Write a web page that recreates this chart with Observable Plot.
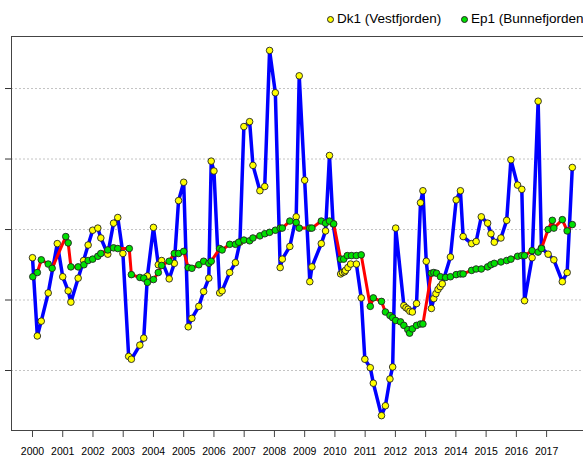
<!DOCTYPE html>
<html>
<head>
<meta charset="utf-8">
<script src="https://cdn.jsdelivr.net/npm/d3@7"></script>
<script src="https://cdn.jsdelivr.net/npm/@observablehq/plot@0.6"></script>
<style>
  html, body { margin: 0; padding: 0; background: white; overflow: hidden; }
  #legend { position: relative; height: 30px; width: 583px; font-family: "Liberation Sans", Arial, sans-serif; font-size: 13.5px; color: #000; }
  #legend .dot { position: absolute; width: 5px; height: 5px; border-radius: 50%; border: 0.8px solid #222; }
  #legend .lab { position: absolute; white-space: nowrap; line-height: 16px; }
</style>
</head>
<body>
<div id="legend"></div>
<div id="chart"></div>
<script>
// Series names
const seriesNames = ["Dk1 (Vestfjorden)", "Ep1 (Bunnefjorden)"];
const seriesFill = ["#ffff00", "#00e000"];
const seriesLine = ["#0000ff", "#ff0000"];

// Dk1 (Vestfjorden): decimal year and value
const dk1Year = [2000.00, 2000.16, 2000.29, 2000.52, 2000.82, 2001.00, 2001.18, 2001.27, 2001.51, 2001.69,
  2001.84, 2001.99, 2002.16, 2002.26, 2002.49, 2002.68, 2002.82, 2002.99, 2003.18, 2003.27,
  2003.55, 2003.68, 2003.80, 2004.00, 2004.16, 2004.27, 2004.52, 2004.69, 2004.83, 2005.00,
  2005.15, 2005.27, 2005.50, 2005.66, 2005.83, 2005.91, 2006.00, 2006.19, 2006.27, 2006.52,
  2006.71, 2006.86, 2006.99, 2007.18, 2007.29, 2007.52, 2007.68, 2007.84, 2008.03, 2008.19,
  2008.26, 2008.51, 2008.72, 2008.82, 2009.00, 2009.17, 2009.24, 2009.55, 2009.69, 2009.82,
  2009.94, 2010.19, 2010.25, 2010.32, 2010.35, 2010.43, 2010.52, 2010.71, 2010.87, 2010.99,
  2011.17, 2011.27, 2011.54, 2011.67, 2011.82, 2011.91, 2012.01, 2012.28, 2012.35, 2012.42,
  2012.48, 2012.56, 2012.70, 2012.83, 2012.91, 2013.02, 2013.19, 2013.27, 2013.34, 2013.41,
  2013.48, 2013.55, 2013.82, 2014.01, 2014.15, 2014.24, 2014.52, 2014.67, 2014.84, 2015.05,
  2015.16, 2015.27, 2015.49, 2015.68, 2015.82, 2016.04, 2016.18, 2016.27, 2016.52, 2016.72,
  2016.83, 2017.05, 2017.24, 2017.52, 2017.68, 2017.85];
const dk1Value = [2.60, 1.49, 1.70, 2.10, 2.80, 2.33, 2.13, 1.97, 2.31, 2.56,
  2.78, 2.99, 3.02, 2.88, 2.65, 3.09, 3.17, 2.66, 1.20, 1.16,
  1.36, 1.46, 2.34, 3.03, 2.50, 2.56, 2.30, 2.52, 3.41, 3.67,
  1.62, 1.74, 1.91, 2.12, 2.31, 3.97, 3.83, 2.10, 2.13, 2.39,
  2.53, 2.82, 4.46, 4.53, 3.91, 3.55, 3.61, 5.54, 4.94, 2.46,
  2.58, 2.76, 3.18, 5.18, 3.70, 2.26, 2.47, 2.80, 2.98, 4.05,
  3.08, 2.37, 2.39, 2.40, 2.42, 2.46, 2.51, 2.51, 2.03, 1.16,
  1.04, 0.82, 0.36, 0.50, 0.88, 1.05, 3.02, 1.92, 1.89, 1.87,
  1.84, 1.83, 1.95, 3.38, 3.55, 2.55, 1.88, 2.02, 2.09, 2.15,
  2.19, 2.23, 2.61, 3.42, 3.55, 2.90, 2.80, 2.83, 3.18, 3.09,
  2.94, 2.82, 2.88, 3.13, 3.99, 3.63, 3.57, 1.99, 2.60, 4.82,
  2.74, 2.65, 2.57, 2.26, 2.39, 3.88];

// Ep1 (Bunnefjorden): decimal year and value
const ep1Year = [2000.01, 2000.16, 2000.29, 2000.52, 2000.65, 2001.10, 2001.18, 2001.27, 2001.51, 2001.70,
  2001.84, 2001.99, 2002.16, 2002.26, 2002.49, 2002.68, 2002.82, 2003.20, 2003.27, 2003.55,
  2003.68, 2003.80, 2004.00, 2004.16, 2004.27, 2004.52, 2004.69, 2004.83, 2005.00, 2005.15,
  2005.27, 2005.50, 2005.66, 2005.83, 2005.91, 2006.19, 2006.27, 2006.52, 2006.71, 2006.82,
  2006.99, 2007.18, 2007.29, 2007.52, 2007.68, 2007.84, 2008.03, 2008.19, 2008.26, 2008.51,
  2008.72, 2008.82, 2009.17, 2009.24, 2009.55, 2009.69, 2009.82, 2009.96, 2010.19, 2010.29,
  2010.41, 2010.55, 2010.71, 2010.87, 2011.17, 2011.27, 2011.54, 2011.67, 2011.82, 2011.91,
  2012.01, 2012.17, 2012.28, 2012.41, 2012.47, 2012.56, 2012.70, 2012.83, 2012.91, 2013.19,
  2013.27, 2013.36, 2013.49, 2013.66, 2013.82, 2014.01, 2014.15, 2014.24, 2014.52, 2014.67,
  2014.84, 2015.05, 2015.16, 2015.27, 2015.49, 2015.68, 2015.82, 2016.04, 2016.18, 2016.27,
  2016.52, 2016.72, 2016.83, 2017.05, 2017.19, 2017.24, 2017.52, 2017.68, 2017.85];
const ep1Value = [2.33, 2.39, 2.57, 2.51, 2.45, 2.90, 2.81, 2.47, 2.47, 2.50,
  2.56, 2.58, 2.62, 2.66, 2.71, 2.74, 2.73, 2.73, 2.36, 2.32,
  2.31, 2.25, 2.29, 2.39, 2.49, 2.55, 2.66, 2.66, 2.69, 2.46,
  2.45, 2.50, 2.55, 2.52, 2.55, 2.73, 2.71, 2.79, 2.79, 2.82,
  2.85, 2.84, 2.88, 2.91, 2.94, 2.96, 2.99, 3.02, 3.02, 3.12,
  3.10, 3.02, 3.02, 3.02, 3.12, 3.09, 3.12, 3.08, 2.58, 2.58,
  2.63, 2.63, 2.63, 2.64, 1.91, 2.03, 1.98, 1.83, 1.78, 1.75,
  1.71, 1.69, 1.64, 1.58, 1.53, 1.59, 1.64, 1.66, 1.66, 2.38,
  2.39, 2.38, 2.33, 2.32, 2.33, 2.36, 2.37, 2.37, 2.42, 2.44,
  2.44, 2.47, 2.50, 2.52, 2.54, 2.56, 2.58, 2.62, 2.63, 2.63,
  2.70, 2.68, 2.73, 3.00, 3.13, 3.02, 3.14, 2.98, 3.07];

// Axis ticks
const xTicks = [2000, 2001, 2002, 2003, 2004, 2005, 2006, 2007, 2008, 2009, 2010, 2011, 2012, 2013, 2014, 2015, 2016, 2017];
const yTicks = [1, 2, 3, 4, 5];
const xDomain = [1999.306, 2018.22];
const yDomain = [0.149, 5.738];

const dk1 = dk1Year.map((t, i) => ({year: t, value: dk1Value[i]}));
const ep1 = ep1Year.map((t, i) => ({year: t, value: ep1Value[i]}));

// Legend (HTML, above the SVG)
const legend = document.getElementById("legend");
const legendPos = [{dot: 330, text: 337}, {dot: 464, text: 471}];
seriesNames.forEach((name, i) => {
  const d = document.createElement("span");
  d.className = "dot";
  d.style.left = (legendPos[i].dot - 3.3) + "px";
  d.style.top = (19 - 3.3) + "px";
  d.style.background = seriesFill[i];
  legend.appendChild(d);
  const t = document.createElement("span");
  t.className = "lab";
  t.style.left = legendPos[i].text + "px";
  t.style.top = (19 - 8.5) + "px";
  t.textContent = name;
  legend.appendChild(t);
});

const chart = Plot.plot({
  width: 583,
  height: 426,
  marginTop: 6,
  marginBottom: 26,
  marginLeft: 11,
  marginRight: 0,
  style: {fontFamily: "'Liberation Sans Narrow', 'Liberation Sans', Arial, sans-serif", background: "white", color: "#000"},
  x: {domain: xDomain},
  y: {domain: yDomain},
  marks: [
    Plot.gridY(yTicks, {stroke: "#c4c4c4", strokeOpacity: 1, strokeDasharray: "2,2"}),
    Plot.ruleY([yDomain[0], yDomain[1]], {stroke: "#444", strokeWidth: 1}),
    Plot.ruleX([xDomain[0]], {stroke: "#444", strokeWidth: 1}),
    Plot.axisY(yTicks, {tickSize: 6, tickFormat: () => "", label: null, stroke: "#333"}),
    Plot.axisX(xTicks, {tickSize: 7, tickPadding: 10, tickFormat: "d", label: null, fontSize: 10.5, stroke: "#444", fill: "#000"}),
    Plot.line(dk1, {x: "year", y: "value", stroke: seriesLine[0], strokeWidth: 3.5}),
    Plot.dot(dk1, {x: "year", y: "value", r: 3.3, fill: seriesFill[0], stroke: "#222", strokeWidth: 0.9}),
    Plot.line(ep1, {x: "year", y: "value", stroke: seriesLine[1], strokeWidth: 3}),
    Plot.dot(ep1, {x: "year", y: "value", r: 3.3, fill: seriesFill[1], stroke: "#222", strokeWidth: 0.9})
  ]
});
document.getElementById("chart").appendChild(chart);
</script>
</body>
</html>
